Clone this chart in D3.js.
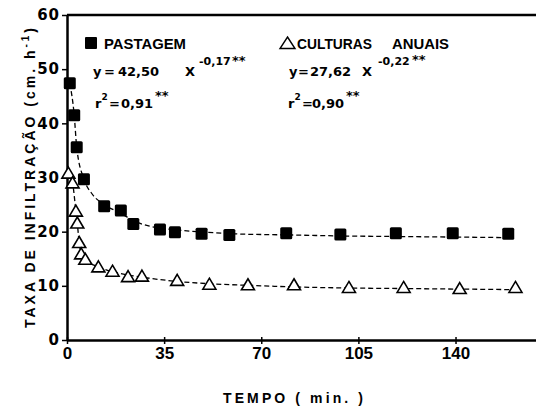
<!DOCTYPE html>
<html>
<head>
  <meta charset="UTF-8">
  <style>
    body { margin: 0; background: #fff; }
    svg text { font-family: "Liberation Sans", Arial, sans-serif; font-weight: bold; fill: #000; }
  </style>
  <script src="https://d3js.org/d3.v7.min.js"></script>
</head>
<body>
  <svg id="chart" width="536" height="410"></svg>
  <script>
    // time (min) and infiltration rate
    const pasT = [1, 2.6, 3.5, 6.1, 13.4, 19.4, 23.9, 33.5, 38.9, 48.5, 58.5, 79, 98.5, 118.5, 139, 159];
    const pasV = [47.4, 41.5, 35.6, 29.7, 24.7, 23.9, 21.4, 20.4, 19.9, 19.6, 19.4, 19.7, 19.5, 19.7, 19.7, 19.6];
    const culT = [0.5, 2, 3.2, 3.7, 4.4, 5.1, 6.6, 11.3, 16.4, 22, 27, 39.7, 51.3, 65.2, 81.8, 101.6, 121.3, 141.5, 161.6];
    const culV = [30.8, 29.0, 23.8, 21.6, 18.0, 15.9, 14.9, 13.5, 12.7, 11.7, 11.8, 11.0, 10.3, 10.2, 10.2, 9.7, 9.7, 9.5, 9.7];

    // dashed fitted curves
    const pasCurveT = [1, 2.6, 3.5, 6.1, 9, 13.4, 19.4, 24, 30, 40, 50, 60, 80, 100, 120, 140, 160];
    const pasCurveV = [47.4, 41.5, 35.6, 29.7, 27, 25, 23.4, 22, 21, 20.3, 19.9, 19.6, 19.4, 19.2, 19.1, 19.0, 18.9];
    const culCurveT = [0.5, 2, 3.2, 3.7, 4.4, 5.1, 6.6, 11.3, 16.4, 22, 27, 40, 51, 65, 82, 101, 121, 141, 161];
    const culCurveV = [30.8, 29, 23.8, 21.6, 18, 15.9, 14.9, 13.5, 12.6, 12, 11.6, 10.8, 10.4, 10.1, 9.8, 9.6, 9.5, 9.4, 9.3];

    const xTicks = [0, 35, 70, 105, 140];
    const yTicks = [0, 10, 20, 30, 40, 50, 60];

    const svg = d3.select("#chart");

    const x = d3.scaleLinear().domain([0, 169]).range([67, 536]);
    const y = d3.scaleLinear().domain([0, 60]).range([340, 15]);

    // axes
    const xAxis = svg.append("g")
      .attr("transform", "translate(0," + y(0) + ")")
      .call(d3.axisBottom(x).tickValues(xTicks).tickFormat(d3.format("d")).tickSize(4).tickSizeOuter(0).tickPadding(3));
    xAxis.select(".domain").attr("stroke-width", 2.5);
    xAxis.selectAll(".tick line").attr("y1", -3).attr("stroke-width", 1.5);
    xAxis.selectAll("text").style("font-size", "17px");

    const yAxis = svg.append("g")
      .attr("transform", "translate(" + x(0) + ",0)")
      .call(d3.axisLeft(y).tickValues(yTicks).tickSize(5).tickSizeOuter(0).tickPadding(2));
    yAxis.select(".domain").attr("stroke-width", 2.5);
    yAxis.selectAll(".tick line").attr("stroke-width", 1.5);
    yAxis.selectAll("text")
      .style("font-family", "'DejaVu Sans', sans-serif")
      .style("font-size", "15px")
      .attr("letter-spacing", 1);

    // top frame line
    svg.append("line")
      .attr("x1", x(0)).attr("x2", 536)
      .attr("y1", y(60)).attr("y2", y(60))
      .attr("stroke", "#000").attr("stroke-width", 2.5);

    // axis titles
    svg.append("text")
      .attr("x", 293).attr("y", 403)
      .attr("text-anchor", "middle")
      .attr("textLength", 140).attr("lengthAdjust", "spacing")
      .style("font-size", "14px")
      .text("TEMPO ( min. )");

    const yt = svg.append("text")
      .attr("transform", "translate(35,178) rotate(-90)")
      .attr("text-anchor", "middle")
      .attr("textLength", 300).attr("lengthAdjust", "spacing")
      .style("font-size", "14px");
    yt.append("tspan").text("TAXA  DE  INFILTRAÇÃO (cm. h");
    yt.append("tspan").attr("dy", -6).style("font-size", "10px").text("-1");
    yt.append("tspan").attr("dy", 6).text(")");

    // dashed curves
    const line = d3.line().x(d => x(d[0])).y(d => y(d[1])).curve(d3.curveMonotoneX);
    svg.append("path")
      .datum(d3.zip(pasCurveT, pasCurveV))
      .attr("d", line)
      .attr("fill", "none").attr("stroke", "#000")
      .attr("stroke-width", 1.3).attr("stroke-dasharray", "5,3");
    svg.append("path")
      .datum(d3.zip(culCurveT, culCurveV))
      .attr("d", line)
      .attr("fill", "none").attr("stroke", "#000")
      .attr("stroke-width", 1.3).attr("stroke-dasharray", "5,3");

    // markers
    const tri = "M0,-6L6.5,5L-6.5,5Z";
    svg.append("g").selectAll("path")
      .data(d3.zip(culT, culV))
      .join("path")
      .attr("d", tri)
      .attr("transform", d => "translate(" + x(d[0]) + "," + y(d[1]) + ")")
      .attr("fill", "#fff").attr("stroke", "#000").attr("stroke-width", 1.6);

    svg.append("g").selectAll("rect")
      .data(d3.zip(pasT, pasV))
      .join("rect")
      .attr("x", d => x(d[0]) - 6).attr("y", d => y(d[1]) - 6)
      .attr("width", 12).attr("height", 12).attr("rx", 1.5)
      .attr("fill", "#000");

    // legend
    function txt(s, px, py, size, len) {
      return svg.append("text").attr("x", px).attr("y", py).style("font-size", size + "px")
        .attr("textLength", len).attr("lengthAdjust", "spacingAndGlyphs").text(s);
    }
    svg.append("rect").attr("x", 85).attr("y", 37).attr("width", 12).attr("height", 12).attr("rx", 1).attr("fill", "#000");
    txt("PASTAGEM", 104, 48.5, 15, 82);
    svg.append("path").attr("d", "M287.5,37L295,48.5L280,48.5Z")
      .attr("fill", "#fff").attr("stroke", "#000").attr("stroke-width", 1.4);
    txt("CULTURAS", 297, 48.5, 15, 75);
    txt("ANUAIS", 392, 48.5, 15, 57);

    // equations: one text per line, pieces placed as tspans
    // each piece: [string, x, dy, font size]
    function eqLine(py, pieces) {
      const t = svg.append("text").attr("y", py)
        .style("font-family", "'DejaVu Sans', sans-serif").style("font-size", "13px");
      pieces.forEach(p => {
        const s = t.append("tspan").text(p[0]);
        if (p[1] !== null) s.attr("x", p[1]);
        if (p[2]) s.attr("dy", p[2]);
        if (p[3]) s.style("font-size", p[3] + "px");
      });
    }
    eqLine(76, [["y", 93], ["=", 104], ["42,50", 118], ["X", 185], ["-0,17", 199, -11, 11], ["**", 232, 0, 13]]);
    eqLine(108, [["r", 95], ["2", 101.5, -8, 9], ["=", 109, 8], ["0,91", 121], ["**", 155, -8]]);
    eqLine(76, [["y", 289], ["=", 298], ["27,62", 310], ["X", 362], ["-0,22", 378, -11, 11], ["**", 412, -1, 13]]);
    eqLine(108, [["r", 288], ["2", 294.5, -8, 9], ["=", 302, 8], ["0,90", 312], ["**", 346, -8]]);
  </script>
</body>
</html>
